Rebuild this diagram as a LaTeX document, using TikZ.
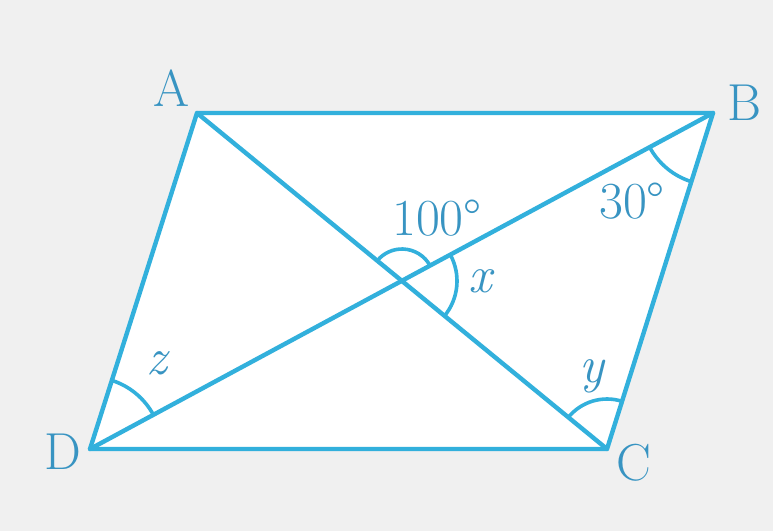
\documentclass[tikz,border=0pt]{standalone}
\usepackage{fontspec}
\setmainfont{Latin Modern Roman}
\usetikzlibrary{angles}
\definecolor{edgecol}{RGB}{50,176,220}
\definecolor{textcol}{RGB}{56,148,194}
\definecolor{bgcol}{RGB}{240,240,240}
\begin{document}
\begin{tikzpicture}[x=1pt,y=1pt,
  edge/.style={draw=edgecol,line width=4.4pt,line cap=round,line join=round},
  arcmark/.style={draw=edgecol,line width=3.6pt},
  lbl/.style={text=textcol,inner sep=0pt,font=\fontsize{52}{60}\selectfont},
  var/.style={lbl,font=\fontsize{52}{60}\selectfont\itshape}]
\fill[bgcol] (0,0) rectangle (773,531);
\useasboundingbox (0,0) rectangle (773,531);
\coordinate (A) at (197,418);
\coordinate (B) at (713,418);
\coordinate (C) at (607,82);
\coordinate (D) at (90,82);
\coordinate (O) at (402,250);
\fill[white] (A) -- (B) -- (C) -- (D) -- cycle;
\draw[edge] (A) -- (B) -- (C) -- (D) -- cycle;
\draw[edge] (A) -- (C);
\draw[edge] (D) -- (B);
\pic[arcmark,angle radius=72pt] {angle = D--B--C};
\pic[arcmark,angle radius=32pt] {angle = B--O--A};
\pic[arcmark,angle radius=55pt] {angle = C--O--B};
\pic[arcmark,angle radius=72pt] {angle = B--D--A};
\pic[arcmark,angle radius=50pt] {angle = B--C--A};
\node[lbl] (lA) at (172,443) {A};
\node[lbl] (lB) at (744,428) {B};
\node[lbl] (lC) at (634,68) {C};
\node[lbl] (lD) at (63,79) {D};
\node[lbl] (l100) at (437,313) {100°};
\node[lbl] (l30) at (632,330) {30°};
\node[var] (lx) at (480,250) {x};
\node[var] (ly) at (592,155) {y};
\node[var] (lz) at (157,168) {z};
\end{tikzpicture}
\end{document}
